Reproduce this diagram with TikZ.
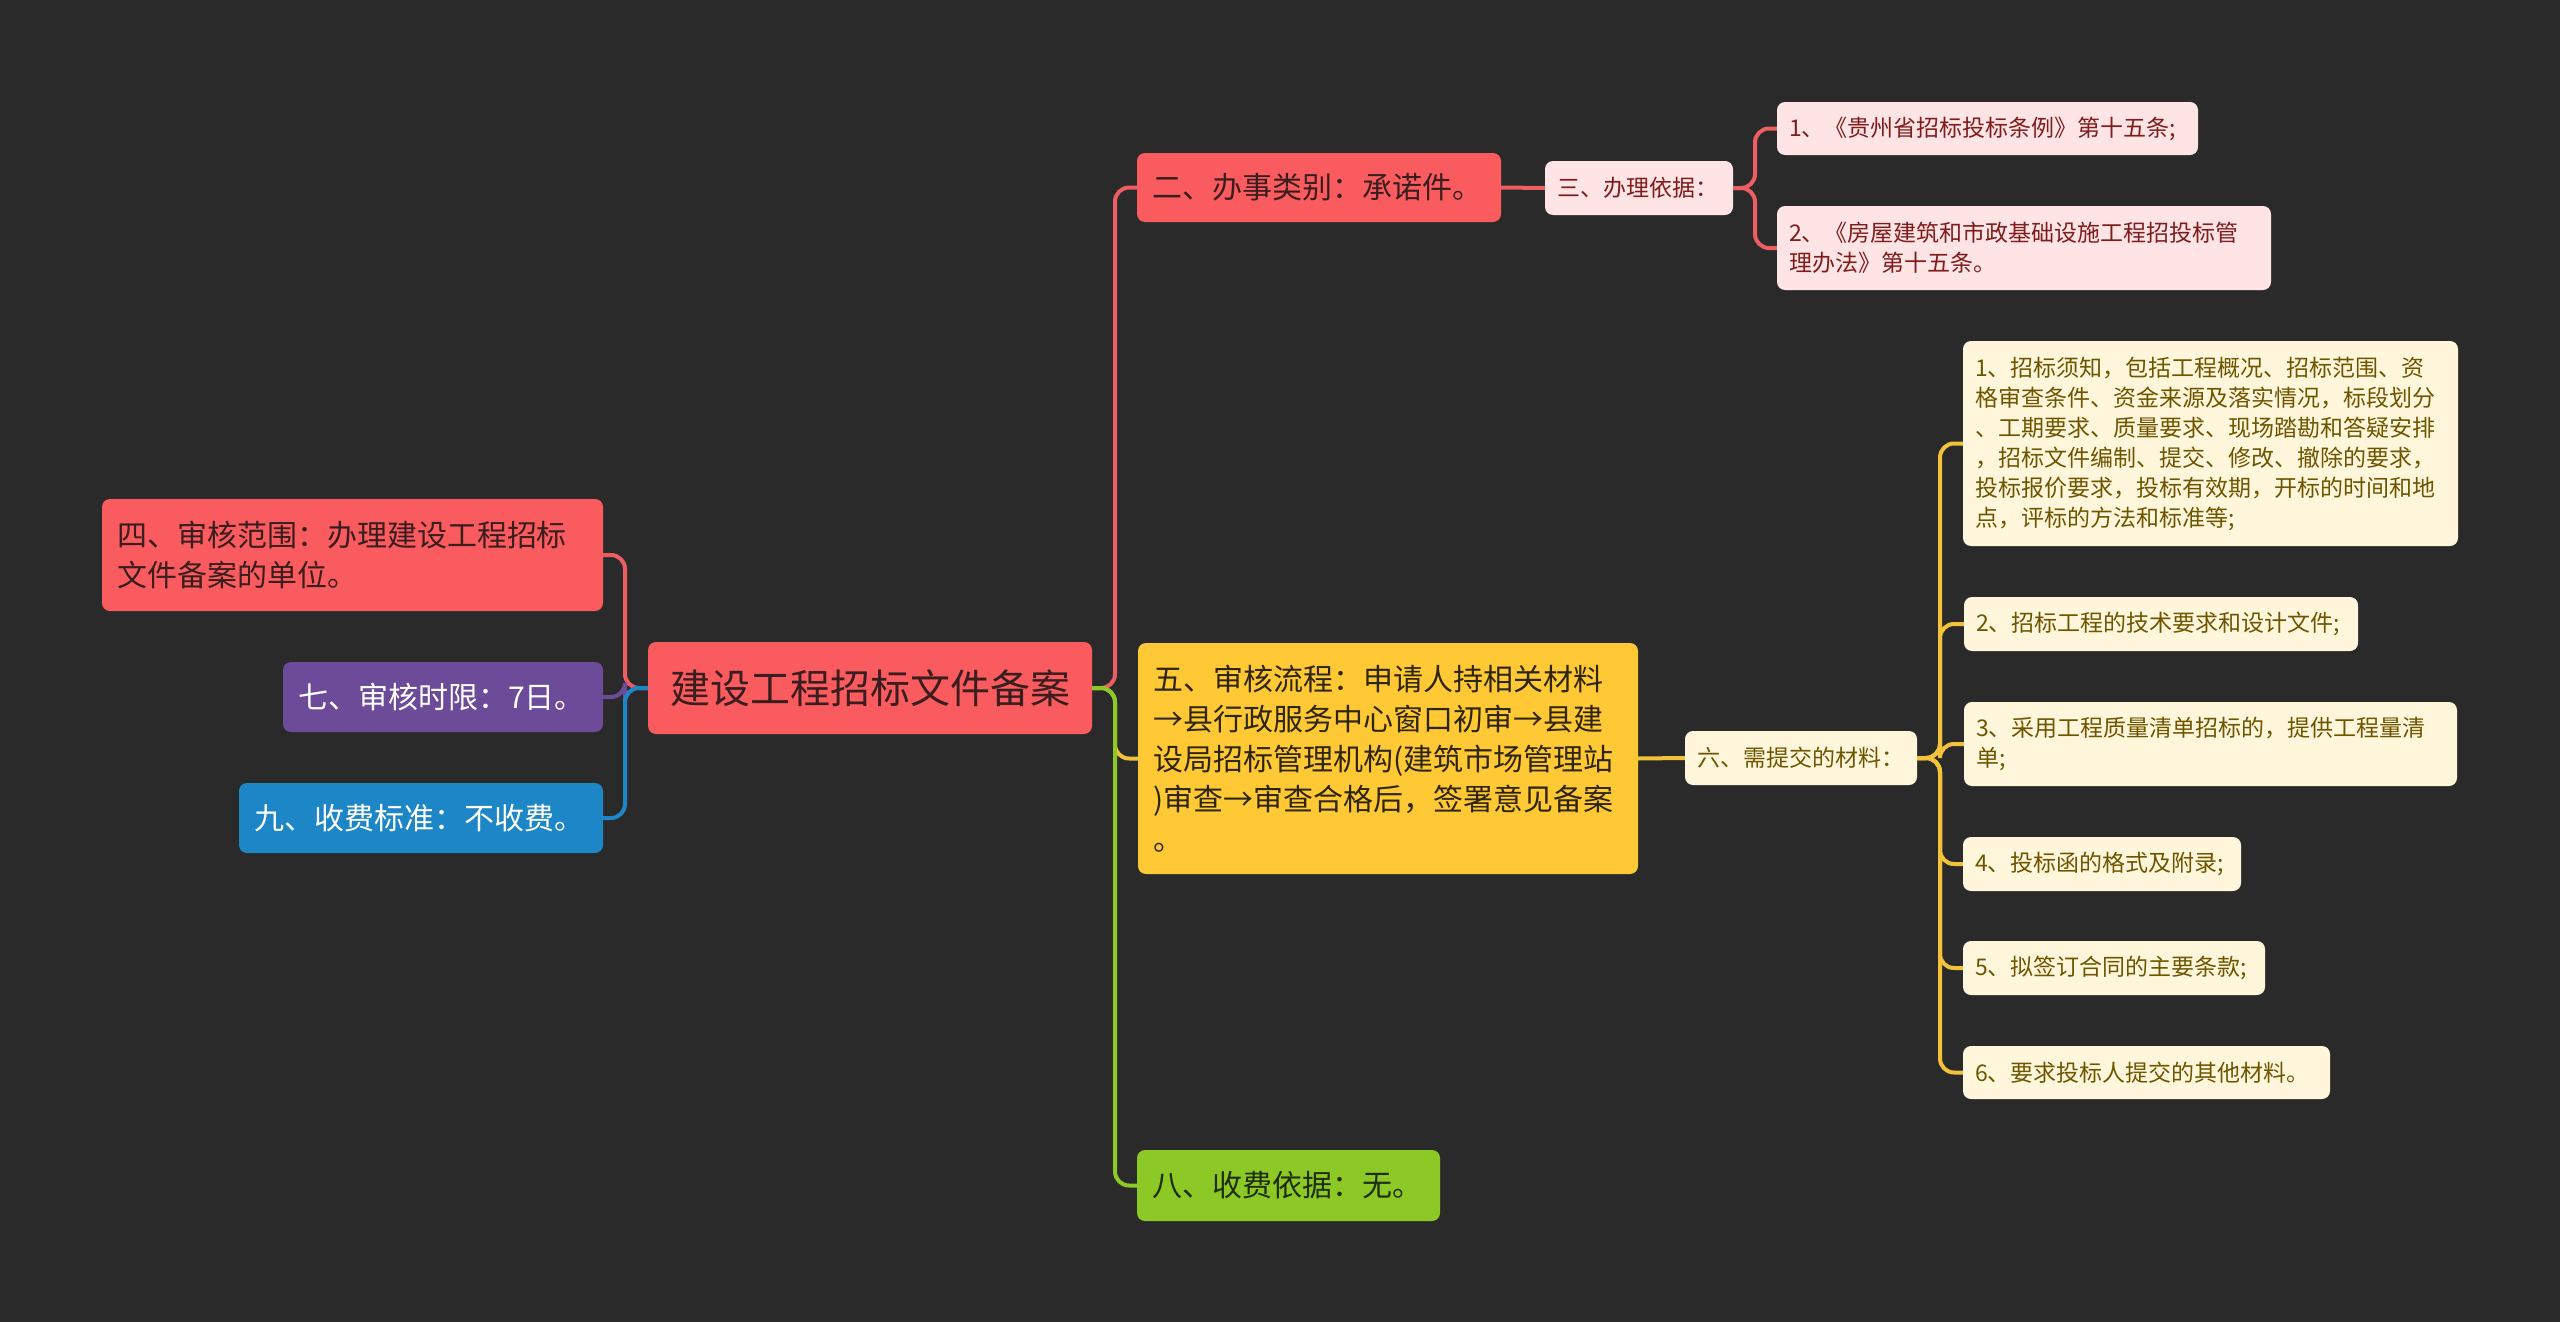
\documentclass[tikz,border=0pt]{standalone}
\usepackage{fontspec}
\setmainfont{Noto Sans CJK SC}
\definecolor{bg}{HTML}{2A2A2A}
\definecolor{redf}{HTML}{F95B5E}
\definecolor{redt}{HTML}{3A1E1F}
\definecolor{redl}{HTML}{EC5E62}
\definecolor{pinkf}{HTML}{FFE4E5}
\definecolor{pinkt}{HTML}{7F1D1D}
\definecolor{yelf}{HTML}{FFC935}
\definecolor{yelt}{HTML}{2E2505}
\definecolor{yell}{HTML}{F2C33A}
\definecolor{creamf}{HTML}{FFF6DB}
\definecolor{creamt}{HTML}{6E5500}
\definecolor{grnf}{HTML}{8DC926}
\definecolor{grnt}{HTML}{1F2D05}
\definecolor{purf}{HTML}{6C4B98}
\definecolor{bluf}{HTML}{1C86C7}
\begin{document}
\begin{tikzpicture}[x=1pt,y=-1pt,
  box/.style={rectangle, rounded corners=8pt, inner ysep=0pt, align=left, anchor=center},
  big/.style={box, font=\fontsize{30}{40}\selectfont, inner xsep=15pt},
  small/.style={box, font=\fontsize{23}{30}\selectfont, inner xsep=12pt},
  conn/.style={line width=4pt, rounded corners=14pt}]
\fill[bg] (0,0) rectangle (2560,1322);
\useasboundingbox (0,0) rectangle (2560,1322);

% root
\node[box, fill=redf, text=redt, font=\fontsize{40}{48}\selectfont, align=center, inner sep=0pt,
  minimum width=444pt, minimum height=92pt] (root) at (870,688) {建设工程招标文件备案};

% right first level
\node[big, fill=redf, text=redt, text width=334pt, minimum height=69pt] (n2) at (1319,187.5) {二、办事类别：承诺件。};
\node[big, fill=yelf, text=yelt, text width=470pt, minimum height=231pt] (n5) at (1388,758.5)
  {五、审核流程：申请人持相关材料\\→县行政服务中心窗口初审→县建\\设局招标管理机构(建筑市场管理站\\)审查→审查合格后，签署意见备案\\。};
\node[big, fill=grnf, text=grnt, text width=273pt, minimum height=71pt] (n8) at (1288.5,1185.5) {八、收费依据：无。};

% left first level
\node[big, fill=redf, text=redt, text width=471pt, minimum height=112pt] (n4) at (352.5,555)
  {四、审核范围：办理建设工程招标\\文件备案的单位。};
\node[big, fill=purf, text=white, text width=290pt, minimum height=70pt] (n7) at (443,697) {七、审核时限：7日。};
\node[big, fill=bluf, text=white, text width=334pt, minimum height=70pt] (n9) at (421,818) {九、收费标准：不收费。};

% second level
\node[small, fill=pinkf, text=pinkt, text width=164pt, minimum height=54pt] (n3) at (1639,188) {三、办理依据：};
\node[small, fill=pinkf, text=pinkt, text width=397pt, minimum height=53pt] (b1) at (1987.5,128.5) {1、《贵州省招标投标条例》第十五条;};
\node[small, fill=pinkf, text=pinkt, text width=470pt, minimum height=84pt] (b2) at (2024,248)
  {2、《房屋建筑和市政基础设施工程招投标管\\理办法》第十五条。};

\node[small, fill=creamf, text=creamt, text width=208pt, minimum height=54pt] (n6) at (1801,758) {六、需提交的材料：};
\node[small, fill=creamf, text=creamt, text width=471pt, minimum height=205pt] (m1) at (2210.5,443.5)
  {1、招标须知，包括工程概况、招标范围、资\\格审查条件、资金来源及落实情况，标段划分\\、工期要求、质量要求、现场踏勘和答疑安排\\，招标文件编制、提交、修改、撤除的要求，\\投标报价要求，投标有效期，开标的时间和地\\点，评标的方法和标准等;};
\node[small, fill=creamf, text=creamt, text width=370pt, minimum height=54pt] (m2) at (2161,624) {2、招标工程的技术要求和设计文件;};
\node[small, fill=creamf, text=creamt, text width=469pt, minimum height=84pt] (m3) at (2210.5,744)
  {3、采用工程质量清单招标的，提供工程量清\\单;};
\node[small, fill=creamf, text=creamt, text width=254pt, minimum height=54pt] (m4) at (2102,864) {4、投标函的格式及附录;};
\node[small, fill=creamf, text=creamt, text width=278pt, minimum height=54pt] (m5) at (2114,968) {5、拟签订合同的主要条款;};
\node[small, fill=creamf, text=creamt, text width=343pt, minimum height=53pt] (m6) at (2146.5,1072.5) {6、要求投标人提交的其他材料。};

% coordinates for trunks
\coordinate (rt) at (1115,688);
\coordinate (lt) at (625,688);
\coordinate (t3) at (1755,188);
\coordinate (t6) at (1940,758);

% right connectors from root
\draw[conn, redl] (root.east) -- (rt) |- (n2.west);
\draw[conn, yell] (root.east) -- (rt) |- (n5.west);
\draw[conn, grnf] (root.east) -- (rt) |- (n8.west);
% left connectors from root
\draw[conn, redl] (root.west) -- (lt) |- (n4.east);
\draw[conn, purf] (root.west) -- (lt) |- (n7.east);
\draw[conn, bluf] (root.west) -- (lt) |- (n9.east);
% second level
\draw[conn, redl] (n2.east) -- (n3.west);
\draw[conn, redl] (n3.east) -- (t3) |- (b1.west);
\draw[conn, redl] (n3.east) -- (t3) |- (b2.west);
\draw[conn, yell] (n5.east) -- (n6.west);
\foreach \m in {m1,m2,m3,m4,m5,m6}{
  \draw[conn, yell] (n6.east) -- (t6) |- (\m.west);
}
\end{tikzpicture}
\end{document}
